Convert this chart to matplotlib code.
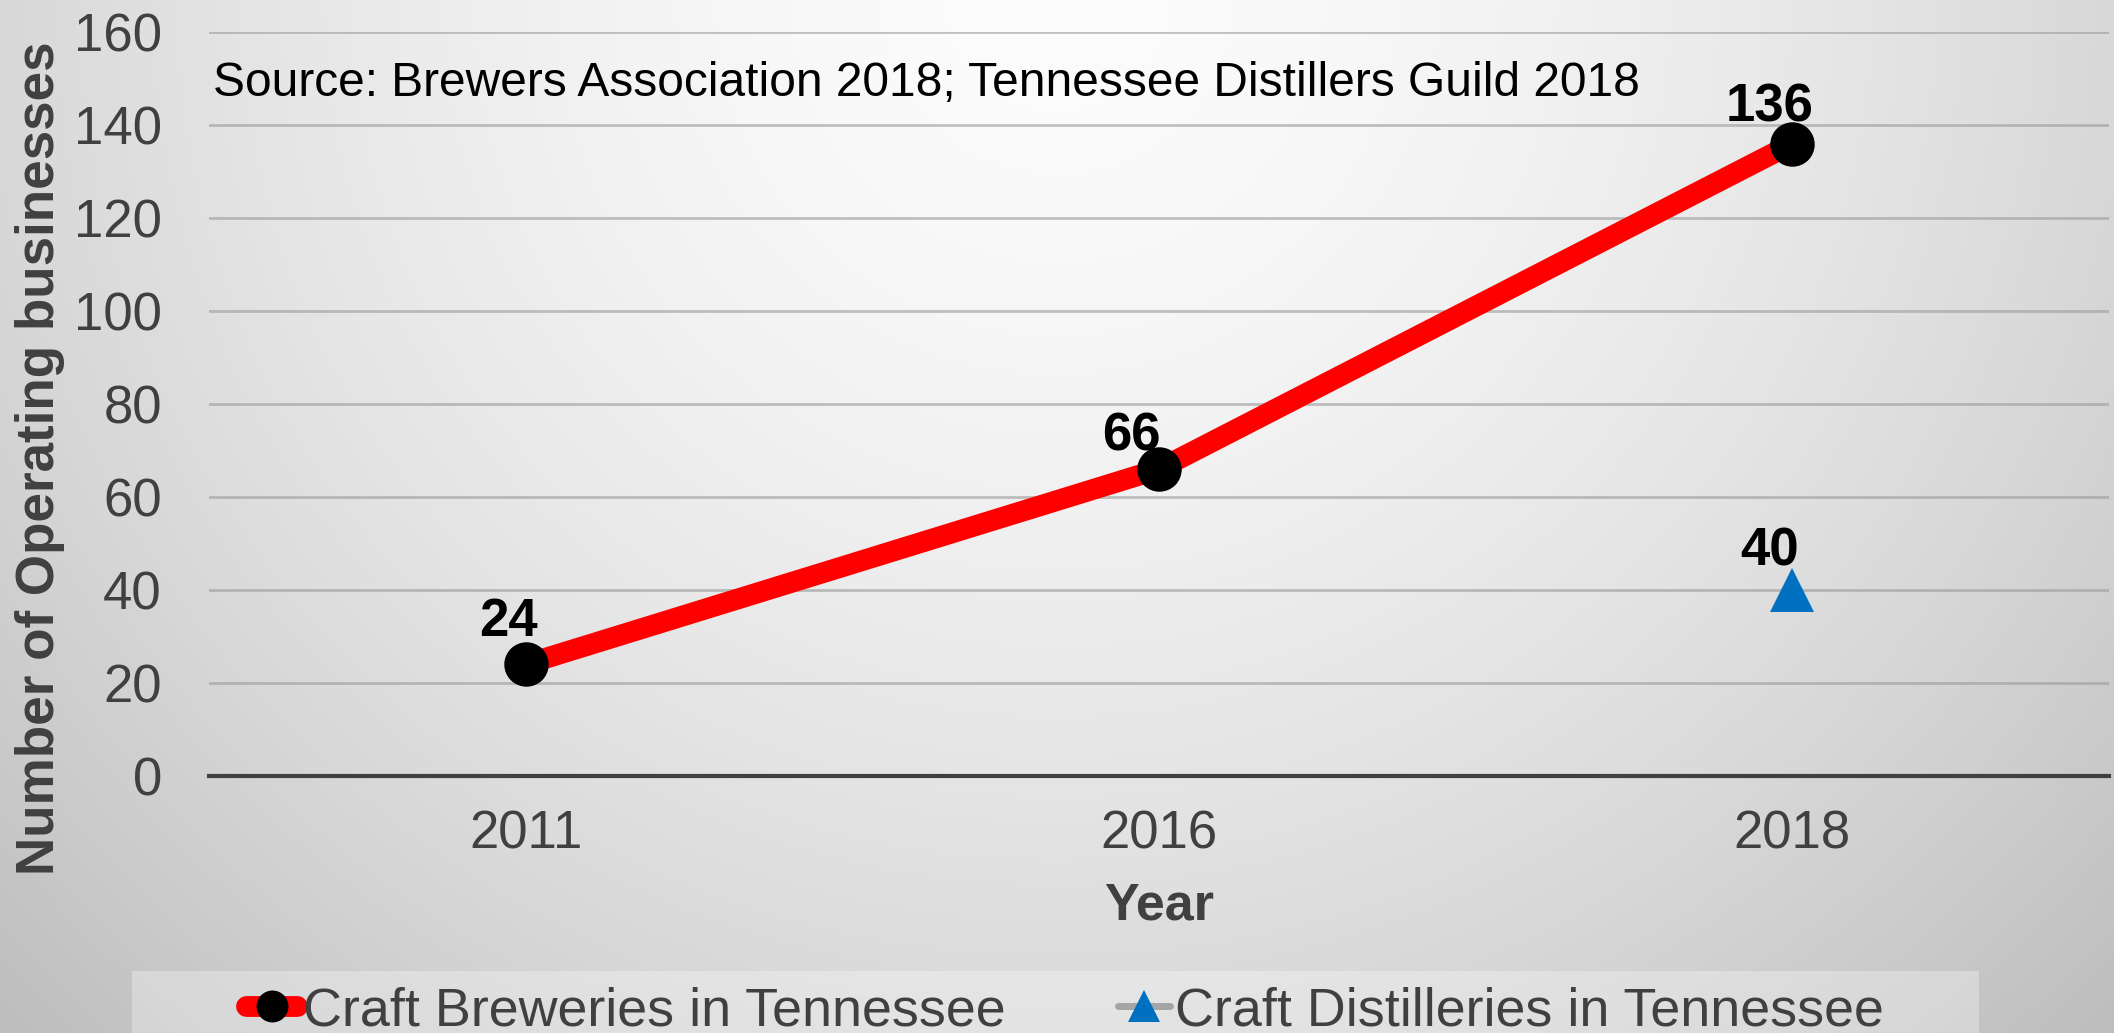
import numpy as np
import matplotlib
matplotlib.use("Agg")
import matplotlib.pyplot as plt
from matplotlib.lines import Line2D
from matplotlib.patches import Rectangle

# ---------------- data ----------------
years = ["2011", "2016", "2018"]
breweries = [24, 66, 136]
distilleries = [np.nan, np.nan, 40]
yticks = [0, 20, 40, 60, 80, 100, 120, 140, 160]
series_names = ["Craft Breweries in Tennessee", "Craft Distilleries in Tennessee"]
source_text = "Source: Brewers Association 2018; Tennessee Distillers Guild 2018"
ylabel_text = "Number of Operating businesses"
xlabel_text = "Year"

# ---------------- style ----------------
plt.rcParams["font.family"] = ["Liberation Sans", "DejaVu Sans"]
W, H, DPI = 2114, 1033, 100
DARK = "#404040"
RED = "#FF0000"
BLUE = "#0070C0"

fig = plt.figure(figsize=(W / DPI, H / DPI), dpi=DPI)

# background radial gradient
bg = fig.add_axes([0, 0, 1, 1], zorder=-10)
gx = np.linspace(0, 1, 529)
gy = np.linspace(0, 1, 259)
X, Y = np.meshgrid(gx, gy)
r = np.sqrt(((X - 0.5) / 0.5) ** 2 + Y ** 2)
val = (252 - 36 * r ** 1.6) / 255.0
img = np.dstack([val, val, val])
bg.imshow(img, extent=[0, 1, 0, 1], origin="upper", aspect="auto",
          interpolation="bilinear")
bg.set_axis_off()

# legend background (partially cut off at bottom)
fig.patches.append(Rectangle((132 / W, -0.05), (1979 - 132) / W, 0.05 + (H - 971) / H,
                             transform=fig.transFigure, facecolor="white",
                             alpha=0.3, edgecolor="none", zorder=-5))

ax = fig.add_axes([209 / W, (H - 776) / H, (2109 - 209) / W, (776 - 32) / H])
ax.set_facecolor("none")

x = np.arange(len(years))
ax.plot(x, breweries, color=RED, lw=15, marker="o", markersize=32,
        markerfacecolor="black", markeredgewidth=0, zorder=3,
        solid_capstyle="butt")
ax.plot(x, distilleries, color="#A5A5A5", lw=5, marker="^", markersize=32,
        markerfacecolor=BLUE, markeredgewidth=0, zorder=3)

# data labels
label_offsets_px = [(-17, 28), (-28, 19), (-23, 22)]
for xi, v, (dx, dy) in zip(x, breweries, label_offsets_px):
    ax.annotate(str(v), (xi, v), xytext=(dx * 0.72, dy * 0.72),
                textcoords="offset points", ha="center", va="baseline",
                fontsize=38, fontweight="bold", color="black", zorder=5)
for xi, v in zip(x, distilleries):
    if not np.isnan(v):
        ax.annotate(str(int(v)), (xi, v), xytext=(-23 * 0.72, 25 * 0.72),
                    textcoords="offset points", ha="center", va="baseline",
                    fontsize=38, fontweight="bold", color="black", zorder=5)

ax.set_xlim(-0.5, len(years) - 0.5)
ax.set_ylim(0, 160)
ax.set_xticks(x)
ax.set_xticklabels(years)
ax.set_yticks(yticks)
ax.tick_params(axis="both", length=0, labelsize=38, labelcolor=DARK)
ax.tick_params(axis="y", pad=34)
ax.tick_params(axis="x", pad=24)

ax.yaxis.grid(True, color="#9a9a9a", lw=2, alpha=0.6, zorder=0)
ax.set_axisbelow(True)
for s in ["left", "right", "top"]:
    ax.spines[s].set_visible(False)
ax.spines["bottom"].set_color(DARK)
ax.spines["bottom"].set_linewidth(3)
ax.spines["bottom"].set_zorder(2)

ax.set_ylabel(ylabel_text, fontsize=38.2, fontweight="bold", color=DARK, va="center")
ax.yaxis.set_label_coords((40 - 209) / (2109 - 209), (776 - 458) / (776 - 32))
ax.set_xlabel(xlabel_text, fontsize=37.5, fontweight="bold", color=DARK, va="center")
ax.xaxis.set_label_coords(0.5, (776 - 906) / (776 - 32))

fig.text(213 / W, 1 - 83 / H, source_text, fontsize=34.5, color="black",
         ha="left", va="center")

handles = [
    Line2D([0], [0], color=RED, lw=15, marker="o", markersize=23,
           markerfacecolor="black", markeredgewidth=0, solid_capstyle="round"),
    Line2D([0], [0], color="#A5A5A5", lw=5, marker="^", markersize=23,
           markerfacecolor=BLUE, markeredgewidth=0, solid_capstyle="round"),
]
leg = fig.legend(handles, series_names, loc="center left",
                 bbox_to_anchor=(246 / W, (H - 1011) / H), ncol=2,
                 frameon=False, fontsize=38.8, handlelength=0.95,
                 handletextpad=0.1, columnspacing=2.1, borderpad=0,
                 borderaxespad=0)
for t in leg.get_texts():
    t.set_color(DARK)

fig.savefig("out.png", dpi=DPI)
